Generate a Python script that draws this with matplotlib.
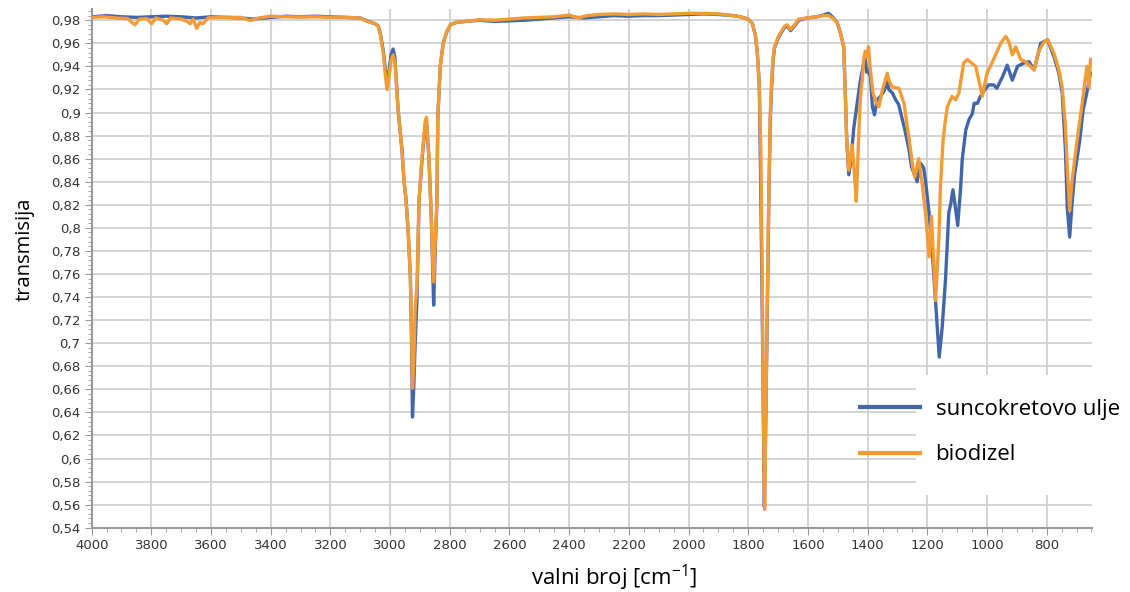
#! /bin/env python3

import matplotlib
matplotlib.use("Agg")
import matplotlib.pyplot as plt
from matplotlib.ticker import MultipleLocator, FuncFormatter
from matplotlib.patches import Rectangle

# suncokretovo ulje (sunflower oil)
wn_ulje = [4000, 3950, 3900, 3850, 3800, 3750, 3700, 3650, 3600, 3550, 3500, 3460, 3420, 3350,
           3300, 3250, 3200, 3150, 3100, 3078, 3050, 3040, 3033, 3022, 3015, 3010, 3004, 2997,
           2990, 2984, 2973, 2960, 2953, 2947, 2939, 2932, 2928, 2925, 2921, 2916, 2910, 2903,
           2893, 2882, 2877, 2870, 2862, 2857, 2854, 2850, 2843, 2840, 2832, 2822, 2810, 2798,
           2780, 2748, 2700, 2650, 2600, 2550, 2500, 2450, 2400, 2350, 2300, 2250, 2200, 2150,
           2100, 2050, 2000, 1950, 1900, 1850, 1826, 1800, 1786, 1776, 1769, 1763, 1759, 1754,
           1750, 1746, 1742, 1737, 1731, 1726, 1722, 1717, 1712, 1699, 1678, 1669, 1658, 1645,
           1631, 1602, 1570, 1548, 1531, 1518, 1502, 1490, 1480, 1474, 1470, 1463, 1455, 1447,
           1435, 1424, 1413, 1408, 1403, 1397, 1390, 1384, 1377, 1368, 1357, 1346, 1334, 1329,
           1317, 1306, 1296, 1278, 1262, 1253, 1234, 1223, 1212, 1206, 1194, 1183, 1172, 1160,
           1150, 1139, 1128, 1122, 1114, 1107, 1098, 1088, 1083, 1071, 1060, 1049, 1043, 1032,
           1022, 1010, 994, 978, 967, 948, 932, 915, 898, 876, 859, 842, 820, 797, 775, 759,
           748, 737, 731, 723, 715, 706, 689, 678, 664, 653]
t_ulje = [0.983, 0.984, 0.983, 0.9825, 0.983, 0.9835, 0.983, 0.982, 0.983, 0.9825, 0.982, 0.981,
          0.982, 0.9835, 0.983, 0.9835, 0.983, 0.9825, 0.982, 0.9795, 0.977, 0.975, 0.969, 0.952,
          0.935, 0.926, 0.935, 0.950, 0.955, 0.948, 0.902, 0.867, 0.839, 0.826, 0.795, 0.757,
          0.70, 0.636, 0.66, 0.70, 0.737, 0.824, 0.859, 0.890, 0.888, 0.861, 0.810, 0.76, 0.733,
          0.77, 0.824, 0.896, 0.94, 0.96, 0.970, 0.976, 0.978, 0.979, 0.980, 0.979, 0.9795,
          0.980, 0.981, 0.982, 0.983, 0.982, 0.983, 0.984, 0.9835, 0.984, 0.984, 0.9845, 0.985,
          0.9855, 0.985, 0.984, 0.983, 0.981, 0.977, 0.967, 0.950, 0.924, 0.853, 0.75, 0.65,
          0.558, 0.62, 0.709, 0.824, 0.894, 0.921, 0.944, 0.956, 0.965, 0.974, 0.975, 0.971,
          0.975, 0.980, 0.982, 0.983, 0.9846, 0.986, 0.983, 0.978, 0.968, 0.957, 0.911, 0.876,
          0.846, 0.86, 0.885, 0.908, 0.928, 0.943, 0.946, 0.935, 0.937, 0.930, 0.905, 0.898,
          0.911, 0.914, 0.918, 0.927, 0.920, 0.917, 0.911, 0.907, 0.888, 0.869, 0.853, 0.840,
          0.856, 0.852, 0.841, 0.813, 0.778, 0.735, 0.688, 0.714, 0.755, 0.813, 0.820, 0.833,
          0.82, 0.802, 0.836, 0.859, 0.885, 0.894, 0.899, 0.908, 0.908, 0.914, 0.919, 0.924,
          0.924, 0.921, 0.931, 0.941, 0.928, 0.940, 0.943, 0.944, 0.937, 0.960, 0.963, 0.948,
          0.934, 0.917, 0.867, 0.818, 0.792, 0.821, 0.847, 0.876, 0.902, 0.919, 0.934]

# biodizel
wn_bio = [4000, 3960, 3920, 3880, 3855, 3840, 3815, 3799, 3785, 3760, 3749, 3735, 3700, 3680,
          3670, 3660, 3648, 3638, 3627, 3610, 3560, 3500, 3469, 3440, 3400, 3350, 3300, 3250,
          3200, 3150, 3100, 3078, 3050, 3040, 3033, 3022, 3015, 3010, 3004, 2997, 2990, 2984,
          2973, 2960, 2953, 2947, 2939, 2932, 2928, 2925, 2921, 2916, 2910, 2903, 2893, 2882,
          2878, 2870, 2862, 2857, 2854, 2850, 2843, 2840, 2832, 2822, 2810, 2798, 2780, 2748,
          2700, 2650, 2600, 2550, 2500, 2450, 2400, 2370, 2340, 2300, 2250, 2200, 2150, 2100,
          2050, 2000, 1950, 1900, 1850, 1826, 1800, 1786, 1776, 1769, 1763, 1758, 1754, 1750,
          1745, 1741, 1737, 1731, 1726, 1722, 1717, 1712, 1699, 1678, 1669, 1658, 1645, 1631,
          1602, 1570, 1548, 1531, 1518, 1502, 1490, 1480, 1474, 1470, 1463, 1452, 1445, 1438,
          1429, 1424, 1418, 1413, 1408, 1403, 1397, 1392, 1382, 1370, 1362, 1350, 1334, 1329,
          1317, 1295, 1278, 1262, 1247, 1242, 1229, 1217, 1206, 1194, 1186, 1172, 1161, 1156,
          1147, 1139, 1133, 1117, 1105, 1094, 1078, 1066, 1038, 1022, 1016, 1000, 978, 954,
          937, 926, 915, 904, 887, 871, 842, 825, 809, 796, 775, 759, 748, 737, 731, 723, 715,
          698, 681, 670, 664, 659, 653]
t_bio = [0.9825, 0.983, 0.982, 0.9815, 0.976, 0.981, 0.9815, 0.977, 0.982, 0.980, 0.977, 0.982,
         0.981, 0.979, 0.977, 0.981, 0.973, 0.978, 0.977, 0.982, 0.9825, 0.9825, 0.9797, 0.982,
         0.9835, 0.983, 0.9828, 0.983, 0.9825, 0.9825, 0.982, 0.979, 0.977, 0.975, 0.968, 0.950,
         0.930, 0.920, 0.930, 0.945, 0.950, 0.944, 0.902, 0.867, 0.840, 0.825, 0.795, 0.757,
         0.71, 0.661, 0.68, 0.73, 0.75, 0.824, 0.862, 0.893, 0.896, 0.862, 0.810, 0.77, 0.753,
         0.78, 0.824, 0.896, 0.94, 0.96, 0.970, 0.976, 0.978, 0.979, 0.9805, 0.980, 0.981, 0.982,
         0.9825, 0.983, 0.9845, 0.982, 0.984, 0.985, 0.9855, 0.985, 0.9855, 0.985, 0.9855, 0.986,
         0.986, 0.9855, 0.984, 0.983, 0.981, 0.977, 0.967, 0.950, 0.924, 0.87, 0.78, 0.66, 0.556,
         0.64, 0.72, 0.83, 0.90, 0.925, 0.946, 0.957, 0.966, 0.975, 0.976, 0.972, 0.976, 0.981,
         0.982, 0.983, 0.984, 0.984, 0.982, 0.978, 0.968, 0.957, 0.911, 0.876, 0.850, 0.872,
         0.85, 0.823, 0.885, 0.914, 0.928, 0.946, 0.953, 0.948, 0.957, 0.940, 0.917, 0.908,
         0.905, 0.920, 0.934, 0.928, 0.922, 0.921, 0.908, 0.879, 0.850, 0.844, 0.860, 0.838,
         0.813, 0.775, 0.810, 0.737, 0.792, 0.836, 0.876, 0.894, 0.905, 0.914, 0.911, 0.917,
         0.943, 0.946, 0.940, 0.922, 0.914, 0.934, 0.946, 0.960, 0.966, 0.961, 0.950, 0.957,
         0.946, 0.944, 0.937, 0.954, 0.961, 0.963, 0.951, 0.937, 0.922, 0.888, 0.853, 0.815,
         0.841, 0.876, 0.908, 0.931, 0.940, 0.922, 0.946]

BLUE = "#4266AA"
ORANGE = "#F39C35"
GRID = "#d0d0d0"


def comma_fmt(v, pos):
    return f"{v:.2f}".rstrip("0").rstrip(".").replace(".", ",")


def main():
    plt.rcParams["font.family"] = ["DejaVu Sans"]
    plt.rcParams["mathtext.default"] = "regular"

    fig = plt.figure(figsize=(11.30, 5.92), dpi=100)
    ax = fig.add_axes([0.0811, 0.1086, 0.8853, 0.8757])

    ax.plot(wn_ulje, t_ulje, color=BLUE, lw=2.4, label="suncokretovo ulje", zorder=3)
    ax.plot(wn_bio, t_bio, color=ORANGE, lw=2.4, label="biodizel", zorder=4)

    ax.set_xlim(4000, 648)
    ax.set_ylim(0.54, 0.9895)

    ax.xaxis.set_major_locator(MultipleLocator(200))
    ax.xaxis.set_minor_locator(MultipleLocator(50))
    ax.yaxis.set_major_locator(MultipleLocator(0.02))
    ax.yaxis.set_minor_locator(MultipleLocator(0.004))
    ax.yaxis.set_major_formatter(FuncFormatter(comma_fmt))

    ax.grid(True, which="major", color=GRID, lw=1.3)
    ax.set_axisbelow(True)

    for s in ["top", "right"]:
        ax.spines[s].set_visible(False)
    for s in ["left", "bottom"]:
        ax.spines[s].set_color("#999999")
        ax.spines[s].set_linewidth(1.5)

    ax.tick_params(which="major", length=5, color="#999999", labelsize=9.5,
                   labelcolor="#333333", pad=3)
    ax.tick_params(which="minor", length=3, color="#999999")

    # axis titles, placed where the original has them
    fig.text(25 / 1130, 1 - 249 / 592, "transmisija", fontsize=14.5, family="Open Sans",
             rotation=90, ha="center", va="center")
    fig.text(614 / 1130, 1 - 578 / 592, "valni broj [cm$^{-1}$]", fontsize=16,
             family="Open Sans", ha="center", va="center")

    # white legend box like in the original
    fig.patches.append(Rectangle((916 / 1130, 1 - 495 / 592), 214 / 1130, 120 / 592,
                                 transform=fig.transFigure, facecolor="white",
                                 edgecolor="none", zorder=1))

    leg = fig.legend(loc="upper left", bbox_to_anchor=(840 / 1130, 1 - 379 / 592),
                     frameon=False, handlelength=2.7, handletextpad=0.7,
                     labelspacing=1.1, prop={"family": "Open Sans", "size": 16})
    for line in leg.get_lines():
        line.set_linewidth(3)

    plt.savefig("out.png", dpi=100)


if __name__ == "__main__":
    main()
